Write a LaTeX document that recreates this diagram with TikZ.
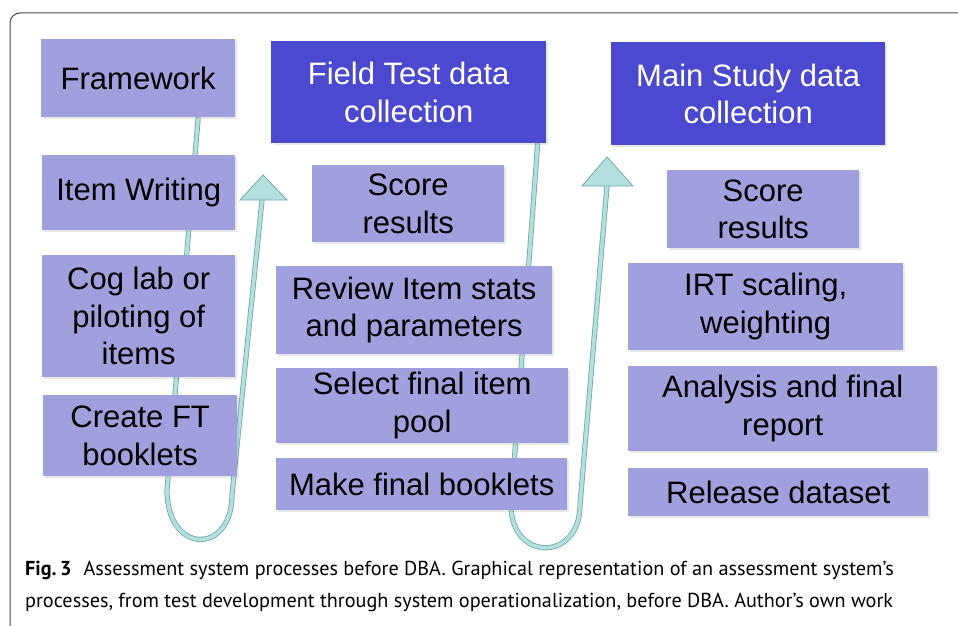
\documentclass[tikz,border=0pt]{standalone}
\usepackage{fontspec}
\setmainfont{Liberation Sans}
\newfontfamily\capfont{PT Sans}
\usetikzlibrary{shadows,backgrounds,calc}
\definecolor{lb}{HTML}{A1A0DE}
\definecolor{db}{HTML}{4A49CF}
\definecolor{tealL}{HTML}{B4DFDF}
\definecolor{tealD}{HTML}{6FA8A8}
\definecolor{framec}{HTML}{444444}
\begin{document}
\begin{tikzpicture}[x=1pt,y=-1pt,
  box/.style={anchor=north west, inner sep=0pt, align=center,
    font=\fontsize{31}{37.5}\selectfont,
    drop shadow={shadow xshift=1.5pt,shadow yshift=-2pt,opacity=0.18}},
  lbox/.style={box, fill=lb, text=black},
  dbox/.style={box, fill=db, text=white},
  conn/.style={draw=tealD, line width=0.8pt, double=tealL, double distance=3.6pt},
  head/.style={fill=tealL, draw=tealD, line width=0.8pt, line join=miter},
  captext/.style={anchor=base west, inner sep=0pt, font=\capfont\fontsize{20.2}{24}\selectfont}]
\useasboundingbox (0,0) rectangle (958,626);
\draw[framec, line width=1pt, rounded corners=10pt] (10,640) -- (10,13) -- (970,13);

% left column
\node[lbox, minimum width=194pt, minimum height=78pt] (fw) at (41,39) {Framework};
\node[lbox, minimum width=193pt, minimum height=75pt] (iw) at (42,155) {Item Writing};
\node[lbox, minimum width=193pt, minimum height=122pt] (cog) at (42,255) {Cog lab or\\piloting of\\items};
\node[lbox, minimum width=194pt, minimum height=81pt] (cft) at (43,395) {Create FT\\booklets};

% middle column
\node[dbox, minimum width=275pt, minimum height=102pt] (ft) at (271,41) {Field Test data\\collection};
\node[lbox, minimum width=192pt, minimum height=77pt] (sr1) at (312,165) {Score\\results};
\node[lbox, minimum width=276pt, minimum height=88pt] (rev) at (276,266) {Review Item stats\\and parameters};
\node[lbox, minimum width=292pt, minimum height=75pt] (sel) at (276,368) {Select final item\\pool};
\node[lbox, minimum width=291pt, minimum height=52pt] (mfb) at (276,458) {Make final booklets};

% right column
\node[dbox, minimum width=274pt, minimum height=103pt] (ms) at (611,42) {Main Study data\\collection};
\node[lbox, minimum width=192pt, minimum height=78pt] (sr2) at (667,170) {Score\\results};
\node[lbox, minimum width=275pt, minimum height=87pt] (irt) at (628,263) {IRT scaling,\\weighting};
\node[lbox, minimum width=309pt, minimum height=85pt] (ana) at (628,366) {Analysis and final\\report};
\node[lbox, minimum width=300pt, minimum height=48pt] (rel) at (628,468) {Release dataset};

% connectors behind the boxes
\coordinate (tipL) at (263,175);
\coordinate (baseL) at (262,200);
\coordinate (tipM) at (607,157);
\coordinate (baseM) at (607,186);
\begin{scope}[on background layer]
  \draw[conn] ([xshift=60pt]fw.south) -- (167,490)
     .. controls (167,555) and (232,555) .. (232,495) -- (baseL);
  \draw[head] (240,200) -- (tipL) -- (287,200) -- cycle;
  \draw[conn] ([xshift=129pt]ft.south) -- (511,505)
     .. controls (511,562) and (580,562) .. (580,505) -- (baseM);
  \draw[head] (582,186) -- (tipM) -- (633,186) -- cycle;
\end{scope}

% caption
\node[captext] (cap1) at (25,575)
  {\textbf{Fig.\,3}\hspace{0.6em}Assessment system processes before DBA. Graphical representation of an assessment system’s};
\node[captext] (cap2) at (25,607)
  {processes, from test development through system operationalization, before DBA. Author’s own work};
\end{tikzpicture}
\end{document}
